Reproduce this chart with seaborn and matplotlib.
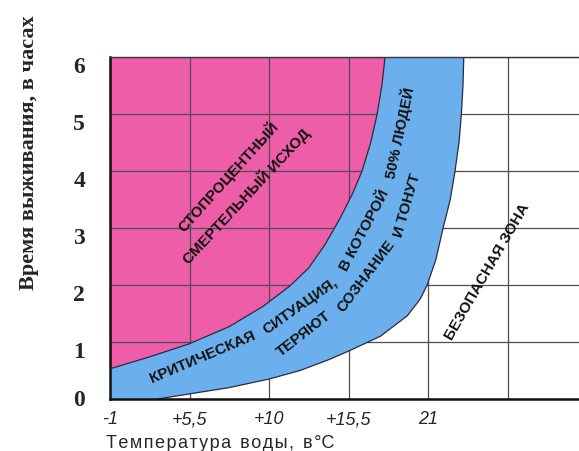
import numpy as np
import matplotlib
matplotlib.use("Agg")
import matplotlib.pyplot as plt
from matplotlib.transforms import ScaledTranslation, blended_transform_factory
import seaborn as sns

# ---- data ----
temp_labels = ["-1", "+5,5", "+10", "+15,5", "21"]
hour_labels = ["0", "1", "2", "3", "4", "5", "6"]

# boundary between "100% death" (pink) and critical zone (blue); x in grid columns, y in hours
inner_x = [0.0, 0.5, 1.0, 1.5, 1.93, 2.26, 2.5, 2.7, 2.89, 3.05, 3.17, 3.28, 3.36, 3.42, 3.46]
inner_y = [0.53, 0.74, 0.97, 1.27, 1.63, 1.98, 2.3, 2.7, 3.16, 3.6, 4.0, 4.5, 5.0, 5.5, 6.0]

# boundary between critical zone (blue) and safe zone (white)
outer_x = [0.6, 1.0, 1.5, 2.0, 2.39, 2.77, 3.0, 3.4, 3.74, 3.9, 3.99, 4.1, 4.19, 4.28, 4.34, 4.39, 4.42, 4.44, 4.45]
outer_y = [0.0, 0.09, 0.2, 0.35, 0.5, 0.7, 0.84, 1.1, 1.46, 1.75, 2.0, 2.45, 3.0, 3.5, 4.0, 4.5, 5.0, 5.5, 6.0]

zone_texts = [
    ("СТОПРОЦЕНТНЫЙ", 228, 177, 48),
    ("СМЕРТЕЛЬНЫЙ ИСХОД", 246, 196, 47),
    ("КРИТИЧЕСКАЯ", 203, 357, 23),
    ("СИТУАЦИЯ,", 300, 306, 35),
    ("В КОТОРОЙ", 365, 230, 62),
    ("50% ЛЮДЕЙ", 400, 133, 78),
    ("ТЕРЯЮТ", 304, 334, 38),
    ("СОЗНАНИЕ", 366, 276, 53),
    ("И ТОНУТ", 407, 205, 74),
    ("БЕЗОПАСНАЯ ЗОНА", 487, 272, 60),
]

PINK = "#EE5EA8"
BLUE = "#6BB0EC"
GRID = "#4d4d55"

sns.set_style("white")
plt.rcParams["font.family"] = ["Liberation Sans", "DejaVu Sans"]

W, H = 579, 452
fig = plt.figure(figsize=(W / 100, H / 100), dpi=100)
ax = fig.add_axes([110 / W, 52 / H, 469 / W, 342 / H])

ax.set_xlim(0, 469 / 79.5)
ax.set_ylim(0, 6)

# pink region (left of inner curve)
ax.fill_betweenx(inner_y, 0, inner_x, color=PINK, lw=0, zorder=0.3)
ax.fill_between([0, inner_x[0]], [inner_y[0], inner_y[0]], [6, 6], color=PINK, lw=0, zorder=0.3)

# blue band
poly_x = list(outer_x) + list(inner_x[::-1]) + [0.0]
poly_y = list(outer_y) + list(inner_y[::-1]) + [0.0]
ax.fill(poly_x, poly_y, color=BLUE, lw=0, zorder=1)

sns.lineplot(x=inner_x, y=inner_y, sort=False, estimator=None, color="#2a2a40", lw=0.9, ax=ax, zorder=1.5)
sns.lineplot(x=outer_x, y=outer_y, sort=False, estimator=None, color="#2a2a40", lw=0.9, ax=ax, zorder=1.5)

# grid and axes
ax.set_xticks(range(6))
ax.set_xticklabels(temp_labels + [""])
ax.set_yticks(range(7))
ax.set_yticklabels([""] * 7)
ax.set_axisbelow(True)
ax.grid(True, color=GRID, lw=0.9)

for lab in ax.get_xticklabels():
    lab.set_fontfamily("Liberation Sans")
    lab.set_fontstyle("italic")
    lab.set_fontsize(13)
ax.tick_params(axis="x", length=0, pad=8)
ax.tick_params(axis="y", length=0, pad=0)

# hour labels (slightly below their grid lines, as in the original print)
ytrans = blended_transform_factory(ax.transAxes, ax.transData)
for i, lab in enumerate(hour_labels):
    dy = 2 if i == 0 else -7
    ax.text(-25 / 469, i, lab, ha="right", va="center_baseline",
            fontsize=17, fontweight="bold", family="Liberation Serif",
            transform=ytrans + ScaledTranslation(0, dy / 100, fig.dpi_scale_trans),
            clip_on=False)

ax.spines["left"].set_linewidth(1.8)
ax.spines["bottom"].set_linewidth(1.8)
ax.spines["left"].set_color("#111111")
ax.spines["bottom"].set_color("#111111")
ax.spines["top"].set_linewidth(1.0)
ax.spines["top"].set_color("#3a3040")
ax.spines["right"].set_visible(False)


def P(px, py):
    return px / W, 1 - py / H


for txt, px, py, ang in zone_texts:
    x, y = P(px, py)
    fig.text(x, y, txt, rotation=ang, rotation_mode="anchor", ha="center", va="center",
             fontsize=11, fontweight="bold", color="#111111", family="Liberation Sans", zorder=5)

x, y = P(29, 153)
fig.text(x, y, "Время выживания, в часах", rotation=90, ha="center", va="center",
         fontsize=16, fontweight="bold", family="Liberation Serif")

xlab = "\u200a".join("Температура") + "\u2002" + "\u200a".join("воды,") + "\u2002" + "в\u200a°С"
x, y = P(106, 448)
fig.text(x, y, xlab, ha="left", va="baseline", fontsize=13,
         family="Liberation Sans")

fig.savefig("out.png", dpi=100)
